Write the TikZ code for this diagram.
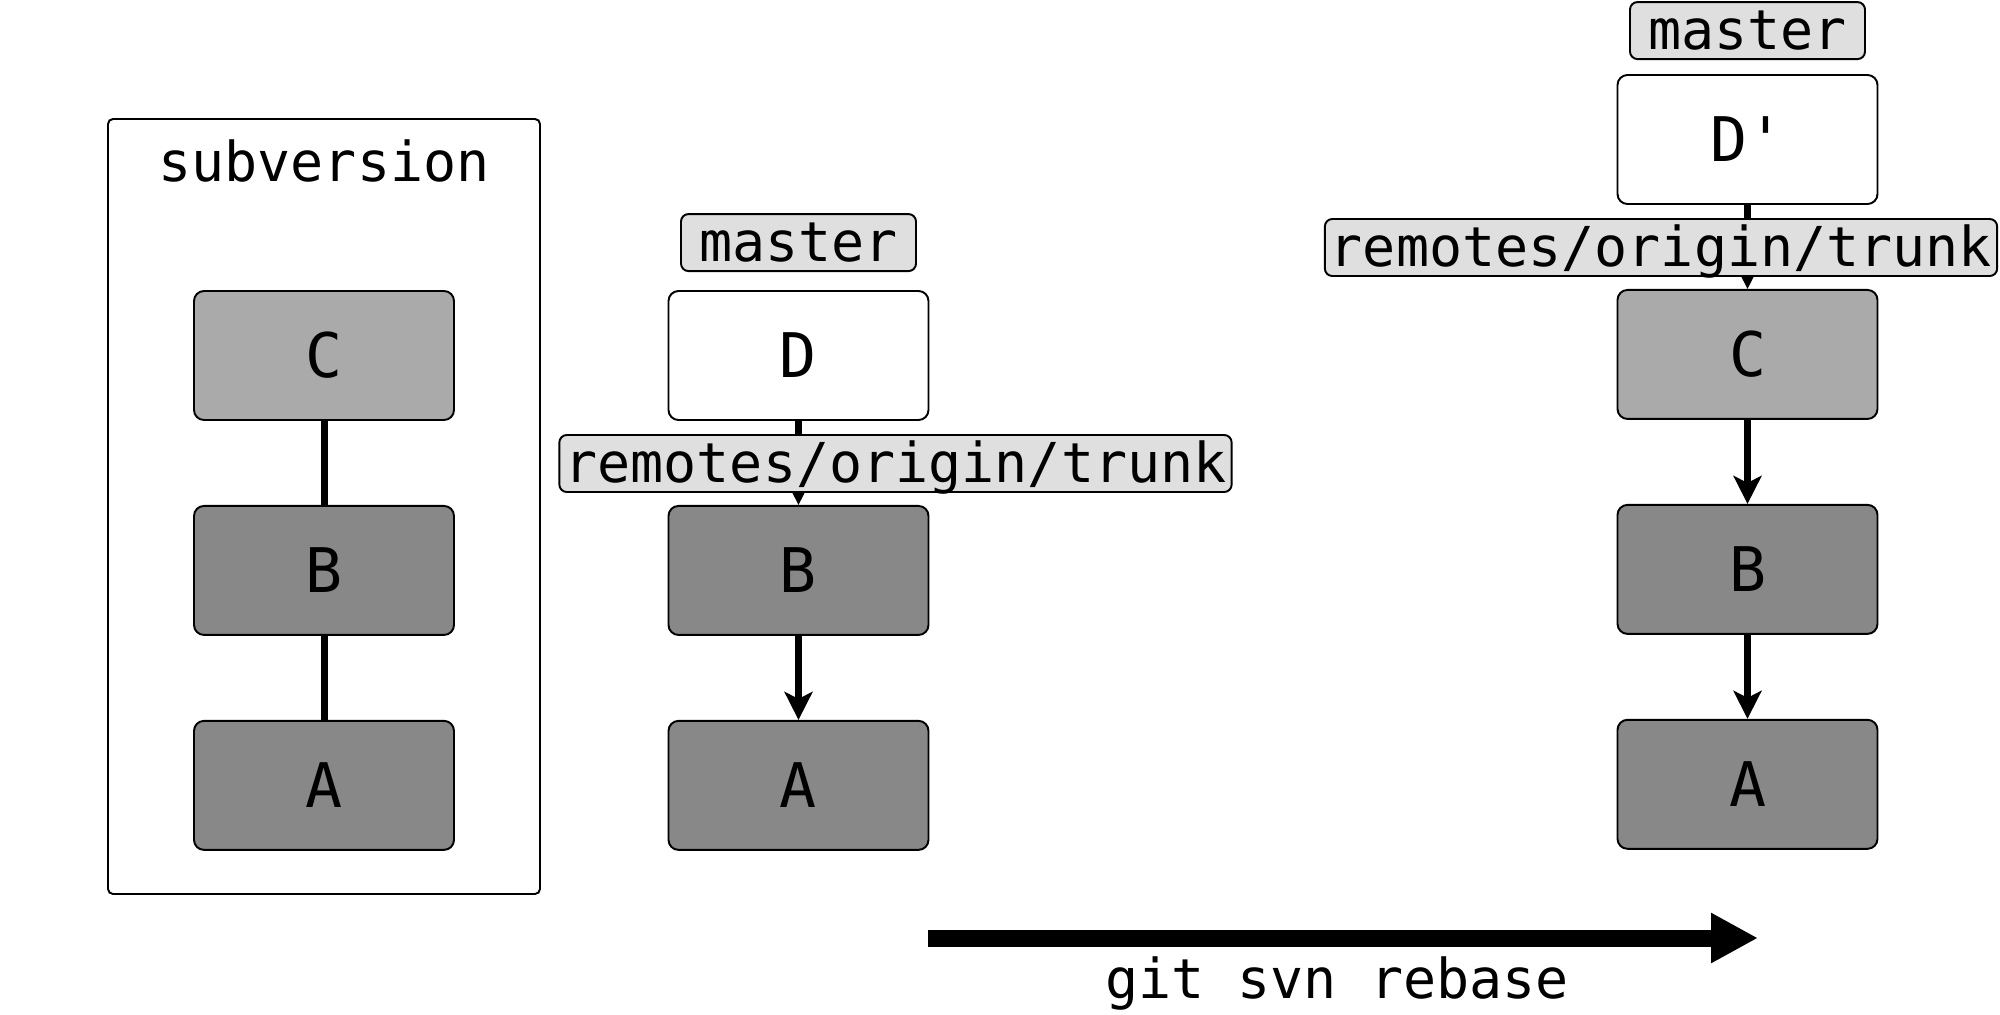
\documentclass[tikz,border=0pt]{standalone}
\usepackage{fontspec}
\setmonofont{DejaVu Sans Mono}
\usetikzlibrary{arrows.meta,positioning}

\definecolor{oldgray}{HTML}{AAAAAA}
\definecolor{basegray}{HTML}{888888}
\definecolor{refgray}{HTML}{DFDFDF}

\begin{document}
\begin{tikzpicture}[
    commit/.style={rectangle, rounded corners=0.2cm, draw, line width=1.1pt, minimum width=5.2cm, minimum height=2.58cm, inner sep=0pt, font=\ttfamily\fontsize{35}{42}\selectfont},
    newcommit/.style={commit, fill=white},
    oldcommit/.style={commit, fill=oldgray},
    basecommit/.style={commit, fill=basegray},
    ref/.style={rectangle, rounded corners=0.15cm, draw, line width=1.1pt, fill=refgray, inner xsep=0.1cm, inner ysep=0.1cm, text height=0.84cm, text depth=0.1cm, font=\ttfamily\fontsize{31.3}{37}\selectfont},
    svnframe/.style={rectangle, rounded corners=0.1cm, draw, line width=1.1pt, minimum width=8.64cm, minimum height=15.5cm},
    link/.style={line width=0.14cm},
    parent/.style={link, -{Stealth[length=0.56cm, width=0.56cm, inset=0.14cm]}},
    node distance=1.68cm
]
\useasboundingbox (0,0) rectangle (40,-20.28);

% subversion side
\node[svnframe] (svn) at (6.48,-10.13) {};
\node[anchor=base, font=\ttfamily\fontsize{31.3}{37}\selectfont] (svntitle) at (6.48,-3.62) {subversion};
\node[oldcommit] (svnC) at (6.48,-7.11) {C};
\node[basecommit, below=of svnC] (svnB) {B};
\node[basecommit, below=of svnB] (svnA) {A};

% local repo before
\node[newcommit] (localD) at (15.97,-7.11) {D};
\node[basecommit, below=of localD] (localB) {B};
\node[basecommit, below=of localB] (localA) {A};

% local repo after
\node[newcommit] (rebasedD) at (34.95,-2.79) {D\textquotesingle};
\node[oldcommit, below=of rebasedD] (rebasedC) {C};
\node[basecommit, below=of rebasedC] (rebasedB) {B};
\node[basecommit, below=of rebasedB] (rebasedA) {A};

\draw[link] (svnC) -- (svnB);
\draw[link] (svnB) -- (svnA);
\draw[parent] (localD) -- (localB);
\draw[parent] (localB) -- (localA);
\draw[parent] (rebasedD) -- (rebasedC);
\draw[parent] (rebasedC) -- (rebasedB);
\draw[parent] (rebasedB) -- (rebasedA);

% branch labels
\node[ref, minimum width=4.7cm, above=0.36cm of localD] (localmaster) {master};
\node[ref] (localtrunk) at (17.91,-9.27) {remotes/origin/trunk};
\node[ref, minimum width=4.7cm, above=0.28cm of rebasedD] (rebasedmaster) {master};
\node[ref] (rebasedtrunk) at (33.22,-4.95) {remotes/origin/trunk};

% command
\coordinate (rebasestart) at (18.56,-18.76);
\coordinate (rebaseend) at (35.16,-18.76);
\draw[line width=0.34cm, -{Triangle[length=0.94cm, width=0.94cm]}] (rebasestart) -- (rebaseend);
\node[anchor=base, font=\ttfamily\fontsize{31.3}{37}\selectfont] (rebasecmd) at (26.74,-19.96) {git svn rebase};

\end{tikzpicture}
\end{document}
